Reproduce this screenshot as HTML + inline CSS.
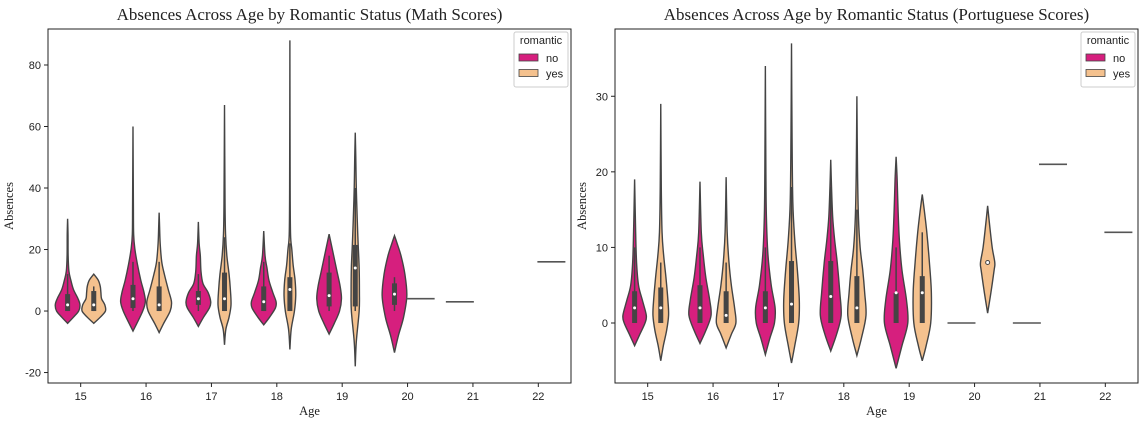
<!DOCTYPE html>
<html><head><meta charset="utf-8"><style>
body{margin:0;background:#fff;}
svg text{fill:#222;}
.t{font-family:"Liberation Serif",serif;font-size:17px;}
.tk{font-family:"Liberation Sans",sans-serif;font-size:11px;}
.al{font-family:"Liberation Serif",serif;font-size:12.5px;}
.lg{font-family:"Liberation Sans",sans-serif;font-size:11px;}
</style></head><body>
<svg id="s" width="1144" height="424" xmlns="http://www.w3.org/2000/svg"></svg>
<script>
const categories=[15,16,17,18,19,20,21,22];
const hues=['no','yes'];
const leftTicks=[-20,0,20,40,60,80];
const rightTicks=[0,10,20,30];
// left (math) violins: profile [value,density], box [whiskLo,q1,med,q3,whiskHi]
const mathProfiles={
'15-no':[[-4,0],[-2,.45],[0,.85],[2,.95],[4,.8],[7,.45],[10,.25],[13,.1],[18,.04],[25,.03],[30,0]],
'15-yes':[[-4,0],[-2,.5],[0,.9],[2,.85],[4,.6],[6,.55],[8,.5],[10,.35],[12,0]],
'16-no':[[-6.5,0],[-4,.3],[0,.75],[3,.95],[6,.85],[10,.6],[15,.35],[20,.15],[25,.05],[35,.03],[60,0]],
'16-yes':[[-7,0],[-4,.35],[0,.85],[3,.95],[7,.7],[12,.4],[16,.2],[22,.08],[28,.03],[32,0]],
'17-no':[[-5,0],[-2,.4],[1,.85],[3,.95],[6,.75],[9,.35],[13,.2],[18,.15],[22,.06],[29,0]],
'17-yes':[[-11,0],[-6,.1],[-2,.35],[2,.5],[7,.45],[12,.35],[18,.18],[25,.08],[35,.04],[67,0]],
'18-no':[[-4.5,0],[-2,.45],[1,.9],[3,.95],[6,.7],[10,.4],[14,.25],[18,.1],[26,0]],
'18-yes':[[-12.5,0],[-6,.1],[0,.35],[5,.45],[10,.4],[15,.25],[20,.15],[25,.05],[40,.02],[88,0]],
'19-no':[[-7.5,0],[-4,.4],[0,.8],[4,.95],[8,.85],[13,.6],[18,.35],[23,.1],[25,0]],
'19-yes':[[-18,0],[-10,.08],[0,.3],[6,.32],[14,.3],[22,.22],[30,.15],[40,.08],[50,.04],[58,0]],
'20-no':[[-13.5,0],[-8,.3],[-2,.7],[5,.95],[12,.8],[18,.5],[22,.2],[24.5,0]]};
const mathBoxes={'15-no':[0,0,2,5.5,12],'15-yes':[0,0,2,6.5,8],'16-no':[0,1,4,8.5,16],'16-yes':[0,0,2,8,16],
'17-no':[0,2,4,6.5,12],'17-yes':[0,0,4,12.5,24],'18-no':[0,0,3,8,16],'18-yes':[0,0,7,11,22],
'19-no':[0,1.5,5,12.5,18],'19-yes':[0,1.5,14,21.5,40],'20-no':[0,2,5.5,9,11]};
const mathSingles={'20-yes':4,'21-no':3,'22-yes':16};
const porProfiles={
'15-no':[[-3,0],[-1.5,.4],[0,.8],[1,.9],[3,.6],[5,.3],[8,.15],[12,.08],[19,0]],
'15-yes':[[-5,0],[-3,.2],[-1,.45],[1,.6],[3,.55],[6,.4],[9,.22],[12,.1],[18,.04],[29,0]],
'16-no':[[-2.7,0],[-1,.45],[1,.85],[3,.75],[6,.45],[9,.25],[12,.1],[18.7,0]],
'16-yes':[[-3.3,0],[-1.5,.4],[0,.75],[2,.65],[5,.4],[8,.22],[12,.08],[19.3,0]],
'17-no':[[-4.2,0],[-2,.35],[0,.7],[2,.75],[5,.45],[9,.2],[14,.08],[20,.04],[34,0]],
'17-yes':[[-5.3,0],[-3,.25],[0,.55],[3,.6],[7,.45],[11,.25],[16,.1],[25,.04],[37,0]],
'18-no':[[-3.7,0],[-1.5,.45],[1,.8],[4,.7],[8,.5],[11,.3],[14,.15],[18,.06],[21.6,0]],
'18-yes':[[-4.3,0],[-2,.35],[1,.7],[4,.6],[7,.45],[10,.25],[14,.12],[20,.05],[30,0]],
'19-no':[[-6,0],[-3,.45],[0,.9],[3,.8],[7,.45],[11,.25],[15,.15],[19,.08],[22,0]],
'19-yes':[[-5,0],[-3,.3],[0,.65],[4,.7],[8,.55],[12,.35],[15,.15],[17,0]],
'20-yes':[[1.3,0],[4,.25],[7,.5],[8,.55],[10,.35],[13,.15],[15.5,0]]};
const porBoxes={'15-no':[0,0,2,4.2,10],'15-yes':[0,0,2,4.7,8],'16-no':[0,0,2,5,10],'16-yes':[0,0,1,4.2,8],
'17-no':[0,0,2,4.2,10],'17-yes':[0,0,2.5,8.2,18],'18-no':[0,0,3.5,8.2,18],'18-yes':[0,0,2,6.2,15],
'19-no':[0,0,4,4,10],'19-yes':[0,0,4,6.2,12]};
const porMedians={'20-yes':8};
const porSingles={'20-no':0,'21-no':0,'21-yes':21,'22-yes':12};

const NS='http://www.w3.org/2000/svg';
const svg=document.getElementById('s');
const COL={no:'#d61f7e',yes:'#f4c18e'};
function mk(tag,at,parent){const e=document.createElementNS(NS,tag);for(const k in at)e.setAttribute(k,at[k]);(parent||svg).appendChild(e);return e;}
function smooth(pts){let d='M'+pts[0][0]+','+pts[0][1];for(let i=0;i<pts.length-1;i++){const p0=pts[Math.max(i-1,0)],p1=pts[i],p2=pts[i+1],p3=pts[Math.min(i+2,pts.length-1)];
const c1=[p1[0]+(p2[0]-p0[0])/6,p1[1]+(p2[1]-p0[1])/6],c2=[p2[0]-(p3[0]-p1[0])/6,p2[1]-(p3[1]-p1[1])/6];
d+=' C'+c1[0]+','+c1[1]+' '+c2[0]+','+c2[1]+' '+p2[0]+','+p2[1];}return d;}

function panel(cfg){
  const {x0,x1,y0,y1,vmin,vmax,ticks,profiles,boxes,singles,medians,title,name}=cfg;
  const g=mk('g',{});
  
  
  const band=(x1-x0)/categories.length;
  const xc=(c,h)=>x0+band*(categories.indexOf(c)+0.5)+(h==='no'?-0.2:0.2)*band;
  const y=v=>y1-(v-vmin)/(vmax-vmin)*(y1-y0);
  const HW=13;
  // ticks
  ticks.forEach(t=>{mk('line',{x1:x0-4,x2:x0,y1:y(t),y2:y(t),stroke:'#222','stroke-width':1},g);
    const tx=mk('text',{x:x0-7,y:y(t)+4,'text-anchor':'end',class:'tk'},g);tx.textContent=t;
    
    });
  categories.forEach((c,i)=>{const cx=x0+band*(i+0.5);mk('line',{x1:cx,x2:cx,y1:y1,y2:y1+4,stroke:'#222'},g);
    const tx=mk('text',{x:cx,y:y1+17,'text-anchor':'middle',class:'tk'},g);tx.textContent=c;
    
    });
  const clip='c'+name;const cp=mk('clipPath',{id:clip},g);mk('rect',{x:x0,y:y0,width:x1-x0,height:y1-y0},cp);
  const pg=mk('g',{'clip-path':'url(#'+clip+')'},g);
  for(const key in profiles){const [c,h]=key.split('-');const cx=xc(+c,h);const pr=profiles[key];
    const R=pr.map(p=>[cx+p[1]*HW,y(p[0])]),L=pr.slice().reverse().map(p=>[cx-p[1]*HW,y(p[0])]);
    const d=smooth(R)+' L'+smooth(L).slice(1)+' Z';
    const v=mk('path',{d:d,fill:COL[h],stroke:'#444','stroke-width':1.4},pg);
    
    
    const b=boxes&&boxes[key];
    if(b){mk('line',{x1:cx,x2:cx,y1:y(b[0]),y2:y(b[4]),stroke:'#444','stroke-width':1.5},pg);
      mk('rect',{x:cx-2.5,y:y(b[3]),width:5,height:Math.max(1,y(b[1])-y(b[3])),fill:'#444'},pg);
      mk('circle',{cx:cx,cy:y(b[2]),r:1.5,fill:'#fff'},pg);}
    if(medians&&medians[key]!==undefined){mk('circle',{cx:cx,cy:y(medians[key]),r:2,fill:'#fff',stroke:'#444','stroke-width':1},pg);}
  }
  for(const key in singles){const [c,h]=key.split('-');const cx=xc(+c,h);
    const l=mk('line',{x1:cx-HW-1,x2:cx+HW+1,y1:y(singles[key]),y2:y(singles[key]),stroke:'#555','stroke-width':1.6},pg);
    
    }
  mk('rect',{x:x0,y:y0,width:x1-x0,height:y1-y0,fill:'none',stroke:'#222','stroke-width':1},g);
  const tt=mk('text',{x:(x0+x1)/2,y:y0-9,'text-anchor':'middle',class:'t'},g);tt.textContent=title;
  
  
  const xl=mk('text',{x:(x0+x1)/2,y:y1+32,'text-anchor':'middle',class:'al'},g);xl.textContent='Age';
  
  
  const yl=mk('text',{x:0,y:0,'text-anchor':'middle',class:'al',transform:'translate('+(x0-(cfg.ylOff))+','+((y0+y1)/2)+') rotate(-90)'},g);yl.textContent='Absences';
  
  
  // legend
  const lx=x1-57,ly=y0+3;
  const lg=mk('g',{},g);
  
  
  mk('rect',{x:lx,y:ly,width:54,height:55,rx:2,fill:'#fff',stroke:'#ccc','fill-opacity':0.85},lg);
  const lt=mk('text',{x:lx+27,y:ly+12,'text-anchor':'middle',class:'lg'},lg);lt.textContent='romantic';
  hues.forEach((h,i)=>{const yy=ly+22+i*15.5;
    const sw=mk('rect',{x:lx+5,y:yy,width:19,height:7,fill:COL[h],stroke:'#444','stroke-width':0.8},lg);
    
    
    const t=mk('text',{x:lx+32,y:yy+8,class:'lg'},lg);t.textContent=h;
    
    });
}
panel({x0:48,x1:571,y0:29,y1:383,vmin:-23.4,vmax:91.7,ticks:leftTicks,profiles:mathProfiles,boxes:mathBoxes,singles:mathSingles,medians:null,
  title:'Absences Across Age by Romantic Status (Math Scores)',name:'math-panel',ylOff:35});
panel({x0:615,x1:1138,y0:29,y1:383,vmin:-7.94,vmax:38.9,ticks:rightTicks,profiles:porProfiles,boxes:porBoxes,singles:porSingles,medians:porMedians,
  title:'Absences Across Age by Romantic Status (Portuguese Scores)',name:'portuguese-panel',ylOff:29});
</script>
</body></html>
